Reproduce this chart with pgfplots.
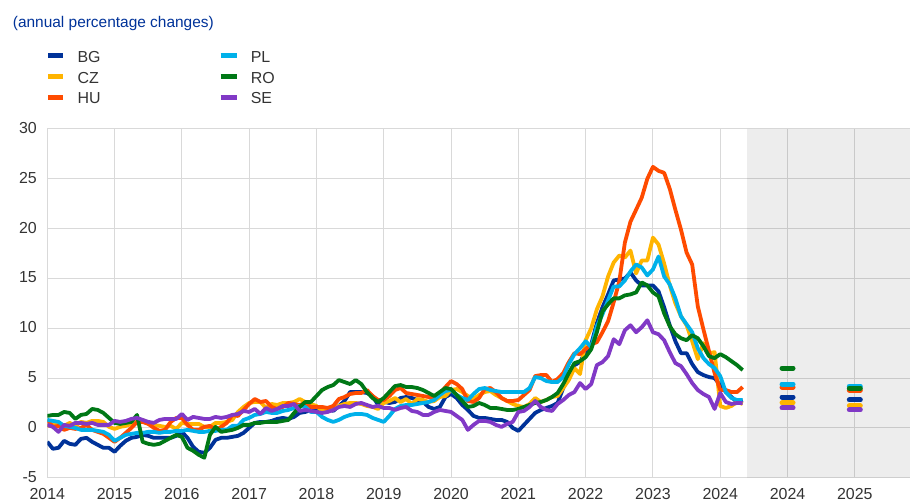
\documentclass[border=0pt]{standalone}
\usepackage{pgfplots}
\pgfplotsset{compat=1.18}
\usepackage{pgfplotstable}
\usepackage{fontspec}
\setmainfont{Liberation Sans}
\definecolor{ecbblue}{HTML}{003299}
\definecolor{czc}{HTML}{FFB400}
\definecolor{huc}{HTML}{FF4B00}
\definecolor{plc}{HTML}{00B1EA}
\definecolor{roc}{HTML}{007816}
\definecolor{sec}{HTML}{8139C6}
\definecolor{gridc}{HTML}{D9D9D9}
\definecolor{inkc}{HTML}{333333}

% monthly HICP, Jan 2014 - May 2024
\pgfplotstableread[row sep=\\]{v\\
-1.4\\ -2.1\\ -2.0\\ -1.3\\ -1.6\\ -1.7\\ -1.1\\ -1.0\\ -1.4\\ -1.7\\ -2.0\\ -2.0\\
-2.4\\ -1.8\\ -1.3\\ -1.0\\ -0.9\\ -0.7\\ -0.8\\ -1.0\\ -1.0\\ -1.0\\ -1.0\\ -0.8\\
-0.4\\ -1.0\\ -1.9\\ -2.4\\ -2.5\\ -2.0\\ -1.2\\ -1.0\\ -1.0\\ -0.9\\ -0.8\\ -0.5\\
0.0\\ 0.5\\ 0.6\\ 0.6\\ 0.7\\ 0.9\\ 1.0\\ 0.9\\ 1.1\\ 1.5\\ 1.6\\ 1.8\\
1.7\\ 1.8\\ 2.0\\ 1.7\\ 2.2\\ 2.7\\ 3.6\\ 3.6\\ 3.6\\ 3.5\\ 3.2\\ 2.3\\
2.6\\ 2.5\\ 2.6\\ 3.0\\ 3.1\\ 3.0\\ 2.8\\ 2.6\\ 2.1\\ 1.9\\ 2.1\\ 3.1\\
3.4\\ 3.0\\ 2.3\\ 1.8\\ 1.2\\ 1.0\\ 1.0\\ 0.9\\ 0.8\\ 0.8\\ 0.6\\ 0.0\\
-0.3\\ 0.3\\ 0.9\\ 1.5\\ 1.8\\ 2.0\\ 2.2\\ 2.5\\ 4.0\\ 5.2\\ 6.3\\ 6.6\\
7.7\\ 8.4\\ 10.5\\ 12.1\\ 13.4\\ 14.8\\ 14.9\\ 15.0\\ 15.6\\ 14.8\\ 14.3\\ 14.3\\
14.3\\ 13.7\\ 12.1\\ 10.3\\ 8.7\\ 7.5\\ 7.5\\ 6.4\\ 5.6\\ 5.3\\ 5.1\\ 5.0\\
4.3\\ 3.6\\ 3.1\\ 2.6\\ 2.8\\
}\bgdata

\pgfplotstableread[row sep=\\]{v\\
0.2\\ 0.3\\ 0.3\\ 0.2\\ 0.5\\ 0.2\\ 0.6\\ 0.5\\ 0.7\\ 0.7\\ 0.6\\ 0.1\\
-0.1\\ 0.1\\ 0.2\\ 0.4\\ 0.7\\ 0.8\\ 0.4\\ 0.3\\ 0.2\\ 0.1\\ 0.2\\ -0.1\\
0.5\\ 0.4\\ 0.4\\ 0.4\\ 0.1\\ 0.1\\ 0.5\\ 0.5\\ 0.6\\ 0.8\\ 1.6\\ 2.1\\
2.5\\ 2.6\\ 2.6\\ 2.0\\ 2.4\\ 2.3\\ 2.5\\ 2.5\\ 2.6\\ 2.9\\ 2.6\\ 2.4\\
2.2\\ 1.7\\ 1.8\\ 1.9\\ 2.2\\ 2.4\\ 2.5\\ 2.5\\ 2.4\\ 2.2\\ 2.1\\ 1.9\\
2.5\\ 2.7\\ 3.0\\ 2.6\\ 2.9\\ 2.4\\ 2.9\\ 2.8\\ 2.6\\ 2.7\\ 3.1\\ 3.2\\
3.8\\ 3.9\\ 3.6\\ 3.2\\ 2.9\\ 3.3\\ 3.6\\ 3.7\\ 3.3\\ 3.0\\ 2.7\\ 2.4\\
2.2\\ 2.1\\ 2.4\\ 3.0\\ 2.6\\ 2.8\\ 3.1\\ 3.2\\ 4.0\\ 4.8\\ 6.0\\ 5.4\\
8.8\\ 10.0\\ 11.9\\ 13.2\\ 15.2\\ 16.6\\ 17.3\\ 17.1\\ 17.8\\ 15.5\\ 16.8\\ 16.8\\
19.1\\ 18.4\\ 16.5\\ 14.3\\ 12.5\\ 11.2\\ 10.3\\ 8.7\\ 6.9\\ 8.5\\ 7.5\\ 7.6\\
2.2\\ 2.0\\ 2.2\\ 2.6\\ 2.4\\
}\czdata

\pgfplotstableread[row sep=\\]{v\\
0.8\\ 0.1\\ 0.2\\ -0.2\\ 0.0\\ -0.1\\ 0.0\\ 0.3\\ -0.2\\ -0.4\\ -0.6\\ -1.0\\
-1.4\\ -1.0\\ -0.5\\ 0.0\\ 0.6\\ 0.6\\ 0.4\\ 0.0\\ -0.3\\ -0.2\\ 0.6\\ 1.0\\
1.0\\ 0.3\\ -0.2\\ -0.2\\ 0.1\\ 0.2\\ -0.2\\ 0.1\\ 0.5\\ 1.3\\ 1.2\\ 1.8\\
2.4\\ 2.9\\ 2.6\\ 2.7\\ 2.1\\ 1.9\\ 2.1\\ 2.5\\ 2.4\\ 2.3\\ 2.5\\ 2.1\\
2.1\\ 2.1\\ 2.0\\ 2.2\\ 2.9\\ 3.1\\ 3.4\\ 3.5\\ 3.5\\ 3.8\\ 3.2\\ 2.8\\
2.8\\ 3.2\\ 3.8\\ 4.0\\ 3.5\\ 3.4\\ 3.3\\ 3.2\\ 3.1\\ 2.9\\ 3.4\\ 4.1\\
4.7\\ 4.4\\ 3.9\\ 2.7\\ 2.6\\ 3.0\\ 3.9\\ 4.0\\ 3.6\\ 3.0\\ 2.7\\ 2.7\\
2.8\\ 3.3\\ 3.8\\ 5.2\\ 5.3\\ 5.3\\ 4.6\\ 4.9\\ 5.5\\ 6.6\\ 7.5\\ 7.4\\
7.9\\ 8.4\\ 8.6\\ 9.6\\ 10.7\\ 12.6\\ 14.7\\ 18.6\\ 20.7\\ 21.9\\ 23.1\\ 25.0\\
26.2\\ 25.8\\ 25.6\\ 24.0\\ 21.9\\ 19.9\\ 17.6\\ 16.4\\ 12.2\\ 9.9\\ 7.7\\ 5.5\\
3.8\\ 3.8\\ 3.6\\ 3.6\\ 4.1\\
}\hudata

\pgfplotstableread[row sep=\\]{v\\
0.8\\ 0.7\\ 0.6\\ 0.2\\ 0.1\\ 0.0\\ -0.2\\ -0.2\\ -0.2\\ -0.3\\ -0.4\\ -0.7\\
-1.3\\ -1.0\\ -0.7\\ -0.6\\ -0.5\\ -0.5\\ -0.4\\ -0.4\\ -0.5\\ -0.4\\ -0.4\\ -0.3\\
-0.3\\ -0.2\\ -0.3\\ -0.4\\ -0.4\\ -0.3\\ -0.3\\ -0.2\\ -0.2\\ 0.2\\ 0.2\\ 0.8\\
1.0\\ 1.3\\ 1.4\\ 1.6\\ 1.5\\ 1.5\\ 1.7\\ 1.8\\ 2.0\\ 2.2\\ 2.1\\ 1.6\\
1.6\\ 1.1\\ 0.8\\ 0.6\\ 0.8\\ 1.1\\ 1.3\\ 1.4\\ 1.4\\ 1.3\\ 1.0\\ 0.8\\
0.6\\ 1.2\\ 1.9\\ 2.2\\ 2.3\\ 2.3\\ 2.4\\ 2.5\\ 2.6\\ 2.8\\ 3.3\\ 3.7\\
3.8\\ 3.3\\ 3.0\\ 2.8\\ 3.4\\ 3.9\\ 4.0\\ 3.8\\ 3.7\\ 3.6\\ 3.6\\ 3.6\\
3.6\\ 3.6\\ 4.0\\ 5.1\\ 5.0\\ 4.7\\ 4.6\\ 4.6\\ 5.1\\ 6.4\\ 7.4\\ 8.0\\
8.7\\ 8.1\\ 10.2\\ 11.4\\ 12.8\\ 14.2\\ 14.2\\ 14.8\\ 15.7\\ 16.4\\ 16.1\\ 15.3\\
15.9\\ 17.2\\ 15.2\\ 14.4\\ 13.0\\ 11.2\\ 10.4\\ 9.6\\ 8.0\\ 7.0\\ 6.4\\ 6.0\\
5.2\\ 3.6\\ 3.0\\ 2.8\\ 2.8\\
}\pldata

\pgfplotstableread[row sep=\\]{v\\
1.2\\ 1.3\\ 1.3\\ 1.6\\ 1.5\\ 0.9\\ 1.3\\ 1.4\\ 1.9\\ 1.8\\ 1.5\\ 1.0\\
0.5\\ 0.4\\ 0.5\\ 0.6\\ 1.3\\ -1.4\\ -1.6\\ -1.7\\ -1.6\\ -1.3\\ -1.0\\ -0.7\\
-0.9\\ -2.0\\ -2.3\\ -2.7\\ -3.0\\ -0.7\\ 0.1\\ -0.4\\ -0.3\\ -0.2\\ 0.0\\ 0.3\\
0.3\\ 0.5\\ 0.5\\ 0.6\\ 0.6\\ 0.6\\ 0.7\\ 0.8\\ 1.5\\ 2.1\\ 2.6\\ 2.6\\
3.2\\ 3.8\\ 4.1\\ 4.3\\ 4.8\\ 4.6\\ 4.4\\ 4.8\\ 4.4\\ 3.6\\ 3.0\\ 2.6\\
3.0\\ 3.6\\ 4.2\\ 4.3\\ 4.1\\ 4.1\\ 4.0\\ 3.8\\ 3.5\\ 3.2\\ 3.6\\ 4.0\\
3.9\\ 3.3\\ 2.7\\ 2.1\\ 2.2\\ 2.5\\ 2.3\\ 2.0\\ 2.0\\ 1.9\\ 1.8\\ 1.8\\
1.9\\ 2.1\\ 2.3\\ 2.5\\ 2.6\\ 2.8\\ 3.1\\ 3.5\\ 4.4\\ 5.5\\ 6.5\\ 6.7\\
7.1\\ 7.9\\ 9.6\\ 11.7\\ 12.4\\ 13.0\\ 13.0\\ 13.3\\ 13.4\\ 13.6\\ 14.6\\ 14.3\\
13.6\\ 13.2\\ 11.5\\ 10.2\\ 9.4\\ 9.0\\ 8.8\\ 9.3\\ 9.0\\ 8.2\\ 7.2\\ 7.0\\
7.4\\ 7.1\\ 6.7\\ 6.3\\ 5.8\\
}\rodata

\pgfplotstableread[row sep=\\]{v\\
0.3\\ 0.1\\ -0.4\\ 0.3\\ 0.2\\ 0.5\\ 0.5\\ 0.4\\ 0.5\\ 0.3\\ 0.3\\ 0.3\\
0.7\\ 0.6\\ 0.7\\ 0.9\\ 1.0\\ 0.8\\ 0.6\\ 0.5\\ 0.8\\ 0.9\\ 0.9\\ 0.9\\
1.4\\ 0.8\\ 1.1\\ 1.0\\ 0.9\\ 0.9\\ 1.1\\ 1.0\\ 1.1\\ 1.3\\ 1.4\\ 1.7\\
1.6\\ 1.9\\ 1.4\\ 2.0\\ 1.7\\ 1.9\\ 2.2\\ 2.2\\ 2.4\\ 1.7\\ 1.8\\ 1.7\\
1.6\\ 1.5\\ 1.6\\ 1.8\\ 2.1\\ 2.2\\ 2.1\\ 2.4\\ 2.5\\ 2.3\\ 2.1\\ 2.2\\
2.0\\ 2.0\\ 1.8\\ 2.0\\ 2.1\\ 1.7\\ 1.6\\ 1.3\\ 1.3\\ 1.6\\ 1.8\\ 1.7\\
1.6\\ 1.2\\ 0.8\\ -0.2\\ 0.3\\ 0.7\\ 0.7\\ 0.6\\ 0.3\\ 0.1\\ 0.4\\ 0.6\\
1.6\\ 1.7\\ 2.1\\ 2.7\\ 2.1\\ 1.8\\ 1.7\\ 2.4\\ 2.8\\ 3.3\\ 3.6\\ 4.5\\
3.9\\ 4.4\\ 6.3\\ 6.6\\ 7.2\\ 8.9\\ 8.4\\ 9.8\\ 10.3\\ 9.6\\ 10.1\\ 10.8\\
9.6\\ 9.4\\ 8.8\\ 7.6\\ 6.5\\ 6.2\\ 5.4\\ 4.5\\ 3.8\\ 3.4\\ 3.1\\ 1.9\\
3.5\\ 2.6\\ 2.4\\ 2.5\\ 2.5\\
}\sedata

\begin{document}
\begin{tikzpicture}
\useasboundingbox (0,0) rectangle (910bp,502bp);

\node[anchor=base west, inner sep=0, text=ecbblue, font=\fontsize{15.5}{18}\selectfont]
  at (12.7bp,474.3bp) {(annual percentage changes)};

% legend
\begin{scope}[line width=5bp, font=\fontsize{16}{19}\selectfont]
\draw[ecbblue] (48.3bp,446.8bp) -- (63.3bp,446.8bp);
\draw[czc] (48.3bp,425.8bp) -- (63.3bp,425.8bp);
\draw[huc] (48.3bp,404.8bp) -- (63.3bp,404.8bp);
\draw[plc] (220.7bp,446.8bp) -- (237.3bp,446.8bp);
\draw[roc] (220.7bp,425.8bp) -- (237.3bp,425.8bp);
\draw[sec] (220.7bp,404.8bp) -- (237.3bp,404.8bp);
\node[anchor=base west, inner sep=0, text=inkc] at (75bp,439.5bp) {BG};
\node[anchor=base west, inner sep=0, text=inkc] at (75bp,418.7bp) {CZ};
\node[anchor=base west, inner sep=0, text=inkc] at (75bp,398bp) {HU};
\node[anchor=base west, inner sep=0, text=inkc] at (248.3bp,439.5bp) {PL};
\node[anchor=base west, inner sep=0, text=inkc] at (248.3bp,418.7bp) {RO};
\node[anchor=base west, inner sep=0, text=inkc] at (248.3bp,398bp) {SE};
\end{scope}

\begin{axis}[
  at={(47.3bp,24.3bp)}, anchor=south west,
  scale only axis, width=862.7bp, height=348.7bp,
  xmin=2014, xmax=2026.82, ymin=-5, ymax=30,
  xtick={2014,2015,...,2026},
  xticklabels={2014,2015,2016,2017,2018,2019,2020,2021,2022,2023,2024,2024,2025},
  ytick={-5,0,...,30},
  yticklabels={-5,0,5,10,15,20,25,30},
  axis line style={draw=none}, major tick length=0pt,
  grid=major, grid style={gridc, line width=1bp},
  ticklabel style={font=\fontsize{16}{19}\selectfont, text=inkc},
  yticklabel style={xshift=-7bp, yshift=1bp},
  xticklabel style={yshift=-7bp},
  every axis plot/.append style={line width=3.8bp, line join=round},
]
% projection period shading (translucent so the grid shows through)
\addplot[draw=none, fill=black, fill opacity=0.07, forget plot]
  coordinates {(2024.40,-5) (2026.82,-5) (2026.82,30) (2024.40,30) (2024.40,-5)};

\addplot[ecbblue] table[x expr=2014+\coordindex/12, y=v] {\bgdata};
\addplot[czc] table[x expr=2014+\coordindex/12, y=v] {\czdata};
\addplot[huc] table[x expr=2014+\coordindex/12, y=v] {\hudata};
\addplot[plc] table[x expr=2014+\coordindex/12, y=v] {\pldata};
\addplot[roc] table[x expr=2014+\coordindex/12, y=v] {\rodata};
\addplot[sec] table[x expr=2014+\coordindex/12, y=v] {\sedata};

% projections for 2024 and 2025
\addplot[ecbblue, only marks, mark=-, mark size=5.5bp, mark options={line width=5bp, line cap=round}] coordinates {(2025,3.1) (2026,2.8)};
\addplot[czc, only marks, mark=-, mark size=5.5bp, mark options={line width=5bp, line cap=round}] coordinates {(2025,2.5) (2026,2.2)};
\addplot[huc, only marks, mark=-, mark size=5.5bp, mark options={line width=5bp, line cap=round}] coordinates {(2025,4.1) (2026,3.8)};
\addplot[plc, only marks, mark=-, mark size=5.5bp, mark options={line width=5bp, line cap=round}] coordinates {(2025,4.4) (2026,4.2)};
\addplot[roc, only marks, mark=-, mark size=5.5bp, mark options={line width=5bp, line cap=round}] coordinates {(2025,6.0) (2026,4.0)};
\addplot[sec, only marks, mark=-, mark size=5.5bp, mark options={line width=5bp, line cap=round}] coordinates {(2025,2.0) (2026,1.8)};
\end{axis}
\end{tikzpicture}
\end{document}
